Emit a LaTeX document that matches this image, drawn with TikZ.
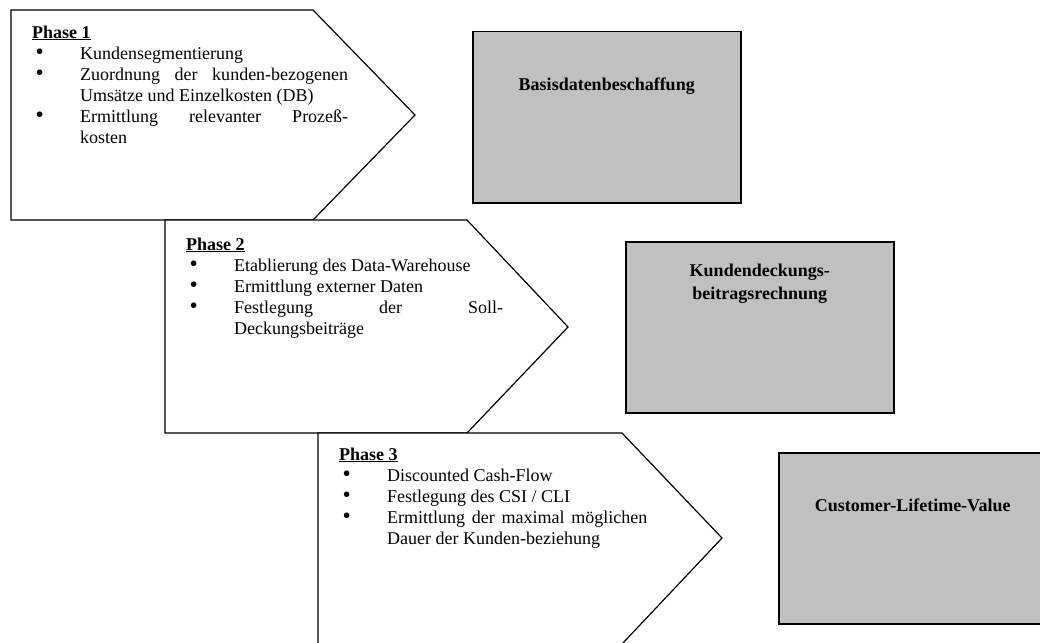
\documentclass[tikz,border=0pt]{standalone}
\usepackage{fontspec}
\setmainfont{Liberation Serif}
\usetikzlibrary{calc}
\definecolor{boxgray}{RGB}{192,192,192}
% one bulleted entry with hanging indent
\newcommand{\phaseitem}[1]{\par\noindent\hangindent=48pt\hangafter=1\makebox[48pt][l]{\hspace{3.5pt}\scalebox{1.3}{\textbullet}}#1}
\newcommand{\phasehead}[1]{\underline{\textbf{#1}}}
\begin{document}
\begin{tikzpicture}[x=1pt,y=-1pt,
  phase/.style={draw=black, line width=1.2pt, line join=miter, fill=white},
  graybox/.style={draw=black, line width=1.5pt, fill=boxgray, minimum width=268pt,
    minimum height=171pt, inner sep=0pt, anchor=north west},
  boxlabel/.style={font=\bfseries\fontsize{18}{23}\selectfont, align=center,
    anchor=base, inner sep=0pt},
  phasetext/.style={anchor=base west, inner sep=0pt, align=justify,
    font=\fontsize{18}{21}\selectfont}]
\useasboundingbox (0,0) rectangle (1040,642);
\clip (0,0) rectangle (1040,642);

% phase arrows
\coordinate (p1a) at (11,10);   \coordinate (p1b) at (313,10);
\coordinate (p1c) at (415,115); \coordinate (p1d) at (313,220);
\coordinate (p1e) at (11,220);
\coordinate (p2a) at (165,220); \coordinate (p2b) at (467,220);
\coordinate (p2c) at (568,327); \coordinate (p2d) at (467,433);
\coordinate (p2e) at (165,433);
\coordinate (p3a) at (318,433); \coordinate (p3b) at (622,433);
\coordinate (p3c) at (722,538); \coordinate (p3d) at (622,644);
\coordinate (p3e) at (318,644);

\draw[phase] (p1a) -- (p1b) -- (p1c) -- (p1d) -- (p1e) -- cycle;
\draw[phase] (p2a) -- (p2b) -- (p2c) -- (p2d) -- (p2e) -- cycle;
\draw[phase] (p3a) -- (p3b) -- (p3c) -- (p3d) -- (p3e) -- cycle;

% phase contents
\node[phasetext, text width=316pt] (t1) at (32,38) {%
  \hyphenpenalty=10000\exhyphenpenalty=10000
  \phasehead{Phase 1}
  \phaseitem{Kundensegmentierung}
  \phaseitem{Zuordnung der kunden-bezogenen\linebreak Umsätze und Einzelkosten (DB)}
  \phaseitem{Ermittlung relevanter Prozeß-\linebreak kosten}\par};

\node[phasetext, text width=317pt] (t2) at (186,250) {%
  \hyphenpenalty=10000\exhyphenpenalty=10000
  \phasehead{Phase 2}
  \phaseitem{Etablierung des Data-Warehouse}
  \phaseitem{Ermittlung externer Daten}
  \phaseitem{Festlegung der Soll-\linebreak Deckungsbeiträge}\par};

\node[phasetext, text width=308pt] (t3) at (339,460) {%
  \hyphenpenalty=10000\exhyphenpenalty=10000
  \phasehead{Phase 3}
  \phaseitem{Discounted Cash-Flow}
  \phaseitem{Festlegung des CSI / CLI}
  \phaseitem{Ermittlung der maximal möglichen\linebreak Dauer der Kunden-beziehung}\par};

% result boxes
\node[graybox] (b1) at (472,31) {};
\node[graybox] (b2) at (625,241) {};
\node[graybox] (b3) at (778,452) {};

\node[boxlabel] (l1) at ($(b1.north)+(0,59)$) {Basisdatenbeschaffung};
\node[boxlabel] (l2) at ($(b2.north)+(0,58)$) {Kundendeckungs-\\beitragsrechnung};
\node[boxlabel] (l3) at ($(b3.north)+(0,59)$) {Customer-Lifetime-Value};
\end{tikzpicture}
\end{document}
